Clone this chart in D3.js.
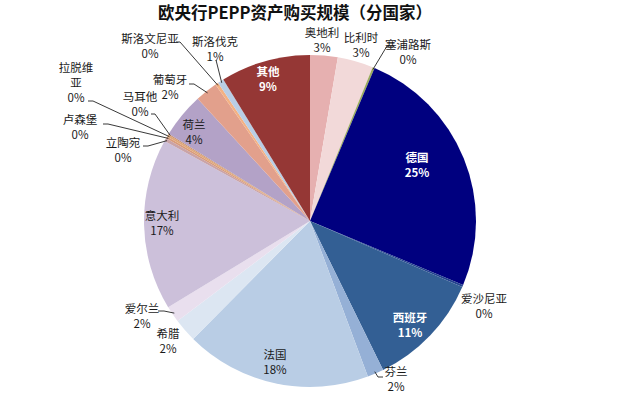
<!DOCTYPE html>
<html>
<head>
<meta charset="utf-8">
<script src="https://cdn.jsdelivr.net/npm/d3@7"></script>
<style>
  body { margin: 0; background: #fff; }
  svg { display: block; font-family: "Noto Sans CJK SC", "Noto Sans", sans-serif; }
</style>
</head>
<body>
<div id="chart"></div>
<script>
// country shares of PEPP purchases, in %, clockwise from 12 o'clock
var countries = ["奥地利", "比利时", "塞浦路斯", "德国", "爱沙尼亚", "西班牙", "芬兰", "法国", "希腊", "爱尔兰",
                 "意大利", "立陶宛", "卢森堡", "拉脱维亚", "马耳他", "荷兰", "葡萄牙", "斯洛文尼亚", "斯洛伐克", "其他"];
var shares = [2.7, 3.5, 0.2, 25.1, 0.2, 11.3, 1.6, 18.2, 2.3, 1.6,
              16.8, 0.3, 0.2, 0.2, 0.1, 4.4, 2.2, 0.3, 0.6, 8.8];
var shareLabels = ["3%", "3%", "0%", "25%", "0%", "11%", "2%", "18%", "2%", "2%",
                   "17%", "0%", "0%", "0%", "0%", "4%", "2%", "0%", "1%", "9%"];
var colors = ["#e6b0b0", "#f2d9d9", "#9bab5c", "#00007f", "#24428f", "#335f94", "#95b0d6", "#b9cde5", "#dce6f2", "#e9dfee",
              "#ccc0da", "#c9a3a8", "#d89a7a", "#e0a878", "#c98f6a", "#b3a2c7", "#e2a08c", "#f4b183", "#b9cde5", "#953735"];

var w = 640, h = 398;
var cx = 310, cy = 221, r = 166;

// label layout: text centre, optional leader line start and bend, inside-label style
var layout = {
  "奥地利":   {x: 322, y: 33},
  "比利时":   {x: 361, y: 38},
  "塞浦路斯": {x: 408, y: 45, line: [[394, 46], [387, 46]]},
  "德国":     {x: 417, y: 158, inside: true},
  "爱沙尼亚": {x: 484, y: 299},
  "西班牙":   {x: 410, y: 318, inside: true},
  "芬兰":     {x: 396, y: 372, line: [[383, 377], [378, 377]]},
  "法国":     {x: 275, y: 355},
  "希腊":     {x: 168, y: 334},
  "爱尔兰":   {x: 142, y: 309, line: [[158, 311], [164, 311]]},
  "意大利":   {x: 162, y: 216},
  "立陶宛":   {x: 123, y: 143, line: [[143, 146], [148, 146]]},
  "卢森堡":   {x: 80, y: 120, line: [[103, 124], [108, 124]]},
  "拉脱维亚": {x: 76, y: 68, lines: ["拉脱维", "亚"], line: [[88, 101], [93, 101]]},
  "马耳他":   {x: 140, y: 97, line: [[151, 114], [155, 114]]},
  "荷兰":     {x: 194, y: 125},
  "葡萄牙":   {x: 170, y: 80, line: [[189, 84], [194, 84]]},
  "斯洛文尼亚": {x: 150, y: 39, line: [[176, 42], [180, 42]]},
  "斯洛伐克": {x: 215, y: 42, line: [[216, 60], [216, 60]]},
  "其他":     {x: 268, y: 72, inside: true}
};

var data = countries.map(function(c, i) {
  return {name: c, value: shares[i], label: shareLabels[i], color: colors[i]};
});

var svg = d3.select("#chart").append("svg")
  .attr("width", w)
  .attr("height", h);

svg.append("text")
  .attr("x", 295)
  .attr("y", 19)
  .attr("text-anchor", "middle")
  .style("font-size", "16.5px")
  .style("font-weight", "bold")
  .style("fill", "#111")
  .text("欧央行PEPP资产购买规模（分国家）");

var g = svg.append("g").attr("transform", "translate(" + cx + "," + cy + ")");

var pie = d3.pie().value(function(d) { return d.value; }).sort(null);
var arc = d3.arc().innerRadius(0).outerRadius(r);
var edge = d3.arc().innerRadius(r - 2).outerRadius(r - 2);

var slices = pie(data);

g.selectAll("path.slice")
  .data(slices)
  .enter().append("path")
  .attr("class", "slice")
  .attr("d", arc)
  .style("fill", function(d) { return d.data.color; });

// leader lines for the small outside labels
var lab = svg.append("g");
slices.forEach(function(d) {
  var L = layout[d.data.name];
  if (!L.line) return;
  var c = edge.centroid(d);
  var end = [c[0] + cx, c[1] + cy];
  var pts = L.line.concat([end]);
  lab.append("path")
    .attr("d", d3.line()(pts))
    .style("fill", "none")
    .style("stroke", "#222")
    .style("stroke-width", 0.9);
});

slices.forEach(function(d) {
  var L = layout[d.data.name];
  var rows = (L.lines || [d.data.name]).concat([d.data.label]);
  var t = lab.append("text")
    .attr("text-anchor", "middle")
    .style("font-size", "11.5px")
    .style("font-weight", L.inside ? "bold" : "normal")
    .style("fill", L.inside ? "#fff" : "#1a1a1a");
  rows.forEach(function(s, k) {
    t.append("tspan")
      .attr("x", L.x)
      .attr("y", L.y + 4 + k * 15)
      .text(s);
  });
});
</script>
</body>
</html>
